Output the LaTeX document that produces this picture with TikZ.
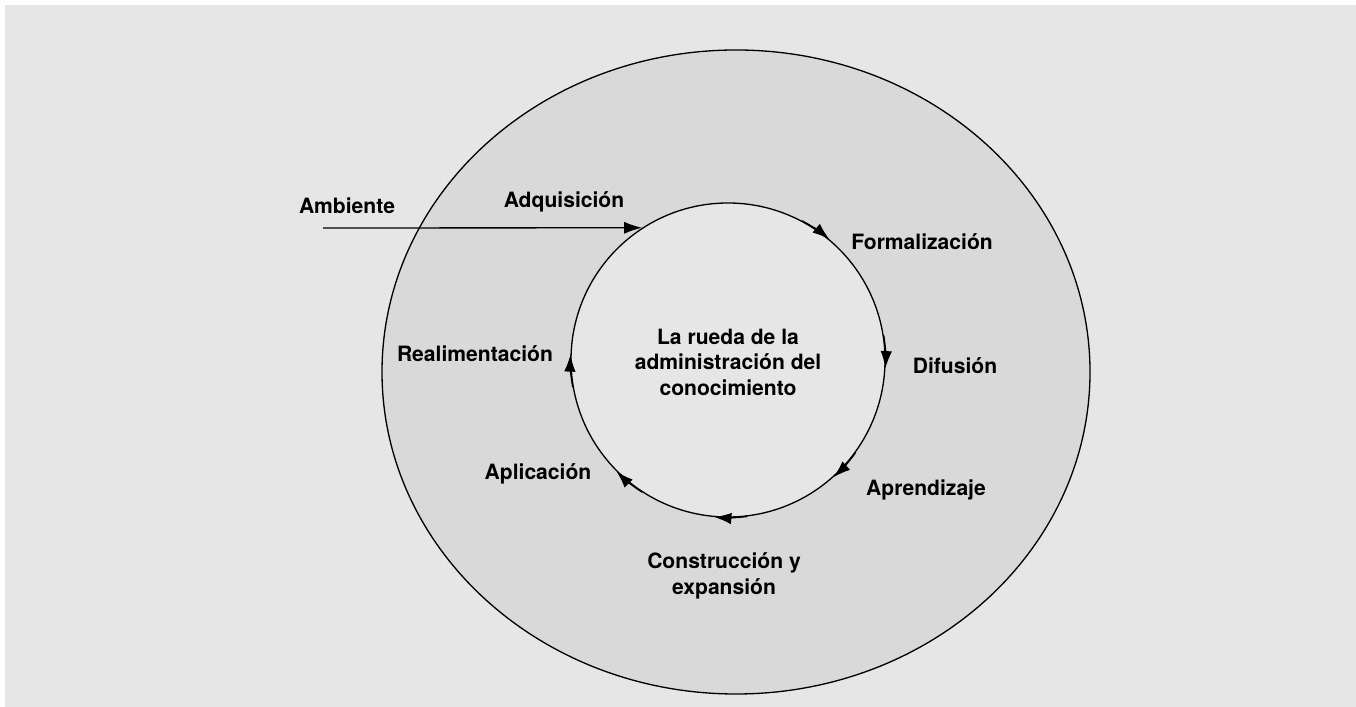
\documentclass[tikz,border=0pt]{standalone}
\usepackage{fontspec}
\setmainfont{TeX Gyre Heros}
\usetikzlibrary{arrows.meta, positioning}

\definecolor{fondo}{HTML}{E6E6E6}
\definecolor{anillo}{HTML}{D9D9D9}

\tikzset{
  etiqueta/.style={font=\bfseries\fontsize{12}{14.5}\selectfont, align=center, inner sep=0pt},
  flecha/.style={line width=0.75pt, -{Latex[length=3.4mm,width=2.3mm]}}
}

\begin{document}
\begin{tikzpicture}[x=0.2mm, y=0.2mm]
\useasboundingbox (0,0) rectangle (1356,707);
% fondo
\fill[fondo] (5,0) rectangle (1356,702);

% anillo exterior
\draw[line width=0.75pt, fill=anillo] (736,335) ellipse [x radius=70.8mm, y radius=64.4mm];

% rueda interior
\node[draw, line width=0.75pt, fill=fondo, circle, minimum size=62.8mm, inner sep=0pt] (rueda) at (728,347) {};
\node[etiqueta] (titulo) at (728,345) {La rueda de la\\administración del\\conocimiento};

% flechas sobre la rueda
\foreach \a/\b in {62/50, 9/-3, -36/-48, -83/-95, -123/-135, 190/178} {
  \draw[flecha] (rueda.\a) arc[start angle=\a, end angle=\b, radius=31.4mm];
}

% entrada del ambiente
\node[etiqueta] (ambiente) at (347,501) {Ambiente};
\coordinate (entrada) at (323,479);
\draw[flecha, -{Latex[length=3.6mm,width=2.4mm]}] (entrada) -- (rueda.123);

% etapas
\node[etiqueta] (adquisicion) at (564,505) {Adquisición};
\node[etiqueta] (formalizacion) at (922,465) {Formalización};
\node[etiqueta] (difusion) at (955,341) {Difusión};
\node[etiqueta] (aprendizaje) at (926,217) {Aprendizaje};
\node[etiqueta] (construccion) at (724,131) {Construcción y\\expansión};
\node[etiqueta] (aplicacion) at (538,233) {Aplicación};
\node[etiqueta] (realimentacion) at (475,353) {Realimentación};
\end{tikzpicture}
\end{document}
